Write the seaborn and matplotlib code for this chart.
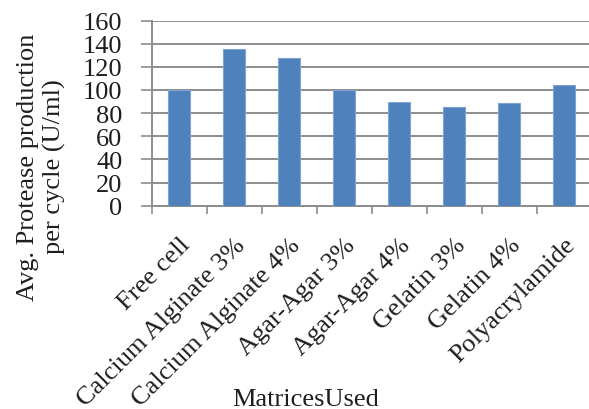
import matplotlib
matplotlib.use("Agg")
import matplotlib.pyplot as plt
import seaborn as sns
import pandas as pd
import numpy as np

# Average protease production per cycle for each immobilisation matrix
matrices = ["Free cell", "Calcium Alginate 3%", "Calcium Alginate 4%",
            "Agar-Agar 3%", "Agar-Agar 4%", "Gelatin 3%", "Gelatin 4%",
            "Polyacrylamide"]
production = [100, 135, 128, 100, 90, 85, 88.5, 104]
y_ticks = [0, 20, 40, 60, 80, 100, 120, 140, 160]

df = pd.DataFrame({"matrix": matrices, "production": production})

sns.set_style("white")
plt.rcParams["font.family"] = ["Liberation Serif", "DejaVu Serif"]

W, H = 589, 410
FS = 19
TXT = "#1E1E1E"
fig = plt.figure(figsize=(W / 100, H / 100), dpi=100)
ax = fig.add_axes([151.7 / W, 1 - 206.7 / H, 440 / W, 185.2 / H])

sns.barplot(data=df, x="matrix", y="production", color="#4F81BD",
            width=0.41, edgecolor="#7FA4D3", linewidth=0.8, ax=ax,
            saturation=1, zorder=3)

grid_col = "#8C8C8C"
ax.set_ylim(0, 160)
ax.set_xlim(-0.5, len(matrices) - 0.5)
ax.set_yticks(y_ticks)
ax.set_yticklabels([str(v) for v in y_ticks], fontsize=FS, color=TXT)
ax.yaxis.grid(True, color=grid_col, linewidth=1.4, zorder=0)
ax.set_axisbelow(True)

# category boundaries carry the tick marks, labels sit at the centres
pos = np.arange(len(matrices))
ax.set_xticks(pos - 0.5)
ax.set_xticklabels([])
ax.set_xticks(pos, minor=True)
ax.set_xticklabels(matrices, minor=True, rotation=45, ha="right",
                   rotation_mode="anchor", fontsize=FS, color=TXT)
ax.tick_params(axis="x", which="major", length=6, width=1.2, color=grid_col,
               direction="out", bottom=True)
ax.tick_params(axis="x", which="minor", length=0, pad=20)
ax.tick_params(axis="y", length=8, width=1.2, color=grid_col, left=True,
               pad=13)

for s in ["top", "right"]:
    ax.spines[s].set_visible(False)
for s in ["left", "bottom"]:
    ax.spines[s].set_color(grid_col)
    ax.spines[s].set_linewidth(1.4)

ax.set_xlabel("")
ax.set_ylabel("")
fig.text(41.5 / W, 1 - 167 / H, "Avg. Protease production\nper cycle (U/ml)",
         rotation=90, ha="center", va="center", multialignment="center",
         fontsize=FS, color=TXT, linespacing=1.2)
fig.text(306 / W, 1 - 400 / H, "MatricesUsed", ha="center", va="center",
         fontsize=FS, color=TXT)

fig.savefig("out.png", dpi=100)
